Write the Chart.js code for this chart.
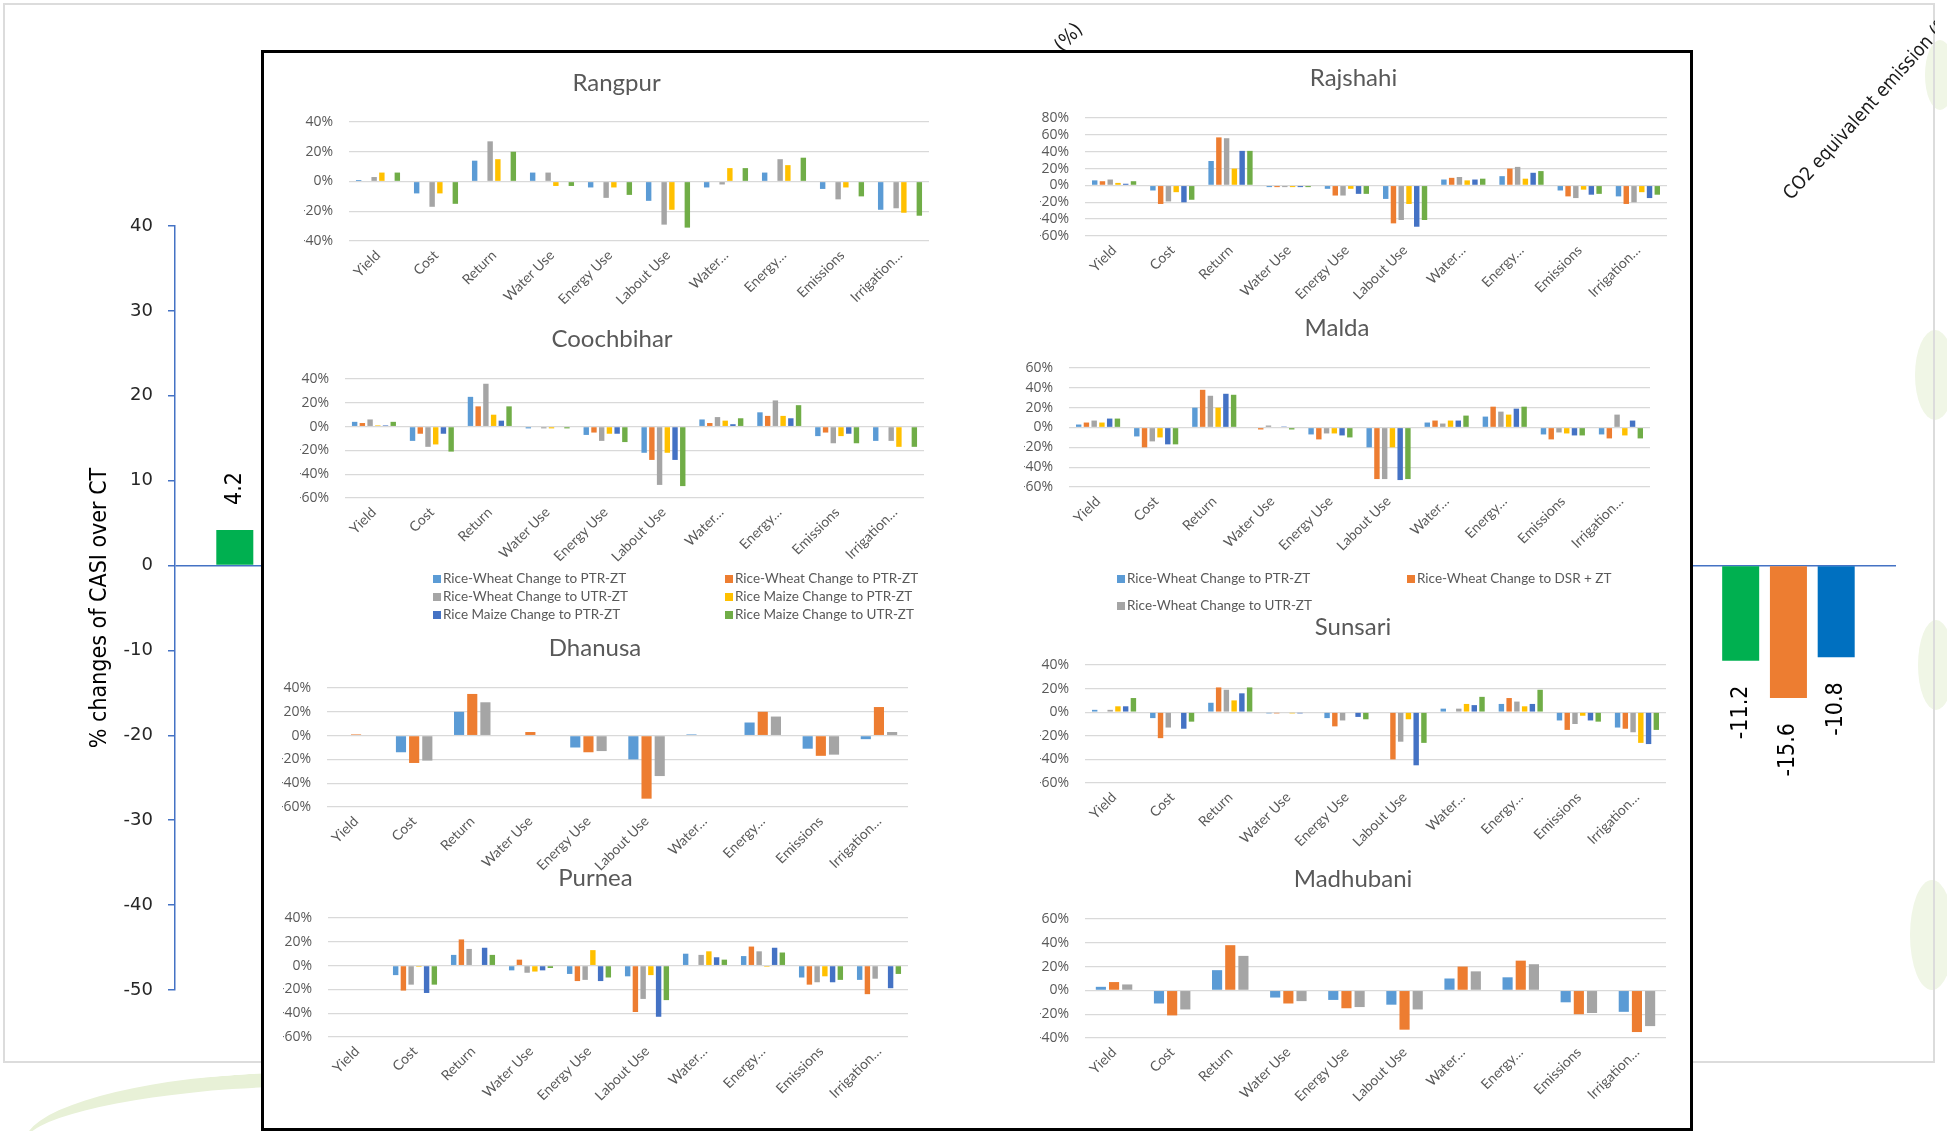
<!DOCTYPE html>
<html>
<head>
<meta charset="utf-8">
<script src="https://cdn.jsdelivr.net/npm/chart.js@4.4.1/dist/chart.umd.min.js"></script>
<style>
  html, body { margin: 0; padding: 0; background: #fff; }
  body { width: 1947px; height: 1131px; position: relative; overflow: hidden; }
  #bgFrame { position: absolute; left: 3px; top: 3px; width: 1932px; height: 1060px; border: 2px solid #dcdcdc; box-sizing: border-box; }
  #bgChart { position: absolute; left: 3px; top: 3px; }
  #panel { position: absolute; left: 261px; top: 50px; width: 1432px; height: 1081px; border: 3px solid #000; box-sizing: border-box; background: #fff; }
  canvas.small { position: absolute; }
  .leaf { position: absolute; border-radius: 50%; background: #f0f6e6; }
  .swoosh { position: absolute; left: 25px; top: 1075px; width: 420px; height: 90px; border-radius: 50%; border-top: 14px solid #e8f1d7; transform: rotate(-4deg); }
</style>
</head>
<body>
<div class="swoosh"></div>
<div class="leaf" style="left:1925px;top:40px;width:30px;height:70px;"></div>
<div class="leaf" style="left:1915px;top:330px;width:40px;height:90px;"></div>
<div class="leaf" style="left:1918px;top:620px;width:36px;height:90px;"></div>
<div class="leaf" style="left:1910px;top:880px;width:44px;height:110px;"></div>
<div id="bgFrame"></div>
<canvas id="bgChart" width="1932" height="1060"></canvas>
<div id="panel"></div>

<script>
// ===== background chart (CASI over CT) =====
const bgCategories = ["", "", "", "Energy use efficiency (%)", "", "", "", "CO2 equivalent emission (%)"];
const bgGreen = [4.2, null, null, null, null, null, null, -11.2];
const bgOrange = [null, null, null, null, null, null, null, -15.6];
const bgBlue = [null, null, null, null, null, null, null, -10.8];
const bgTickMin = -50;
const bgTickMax = 40;

// ===== district charts =====
const categories = ["Yield", "Cost", "Return", "Water Use", "Energy Use", "Labout Use", "Water…", "Energy…", "Emissions", "Irrigation…"];
const seriesNames = [
  "Rice-Wheat Change to PTR-ZT",
  "Rice-Wheat Change to PTR-ZT",
  "Rice-Wheat Change to UTR-ZT",
  "Rice Maize Change to PTR-ZT",
  "Rice Maize Change to PTR-ZT",
  "Rice Maize Change to UTR-ZT"
];
const maldaNames = [
  "Rice-Wheat Change to PTR-ZT",
  "Rice-Wheat Change to DSR + ZT",
  "Rice-Wheat Change to UTR-ZT",
  "Rice Maize Change to PTR-ZT",
  "Rice Maize Change to PTR-ZT",
  "Rice Maize Change to UTR-ZT"
];
const seriesColors = ["#5B9BD5", "#ED7D31", "#A5A5A5", "#FFC000", "#4472C4", "#70AD47"];

// values in %, series order = seriesNames
const rangpur = [
  [1, -8, 14, 6, -4, -13, -4, 6, -5, -19],
  [null, null, null, null, null, null, null, null, null, null],
  [3, -17, 27, 6, -11, -29, -2, 15, -12, -18],
  [6, -8, 15, -3, -4, -19, 9, 11, -4, -21],
  [null, null, null, null, null, null, null, null, null, null],
  [6, -15, 20, -3, -9, -31, 9, 16, -10, -23]
];
const rajshahi = [
  [6, -6, 29, -2, -4, -16, 7, 11, -6, -13],
  [5, -22, 57, -2, -12, -45, 9, 20, -13, -22],
  [7, -19, 56, -2, -12, -41, 10, 22, -15, -20],
  [3, -8, 20, -2, -4, -22, 6, 8, -5, -8],
  [2, -20, 41, -2, -10, -49, 7, 15, -11, -15],
  [5, -17, 41, -2, -10, -41, 8, 17, -10, -11]
];
const coochbihar = [
  [4, -12, 25, -1.5, -7, -22, 6, 12, -8, -12],
  [3, -6, 17, null, -5, -28, 3, 9, -5, null],
  [6, -17, 36, -1.5, -12, -49, 8, 22, -14, -12],
  [1, -15, 10, -1.5, -6, -22, 5, 9, -8, -17],
  [1, -6, 5, null, -6, -28, 2, 7, -6, null],
  [4, -21, 17, -1.5, -13, -50, 7, 18, -14, -17]
];
const malda = [
  [3, -9, 20, null, -7, -20, 5, 11, -7, -7],
  [5, -20, 38, -2, -12, -52, 7, 21, -12, -11],
  [7, -14, 32, 2, -6, -52, 4, 16, -5, 13],
  [5, -10, 20, null, -6, -20, 7, 13, -6, -8],
  [9, -17, 34, 1, -8, -53, 7, 19, -8, 7],
  [9, -17, 33, -2, -10, -52, 12, 21, -8, -11]
];
const dhanusa = [
  [null, -14, 20, null, -10, -20, 1, 11, -11, -3],
  [1, -23, 35, 3, -14, -53, null, 20, -17, 24],
  [null, -21, 28, null, -13, -34, null, 16, -16, 3]
];
const sunsari = [
  [2, -5, 8, -1, -5, null, 3, 7, -7, -13],
  [null, -22, 21, -1, -12, -40, null, 12, -15, -14],
  [2, -13, 19, null, -7, -25, 3, 9, -10, -17],
  [5, null, 10, -1, null, -6, 7, 5, -3, -26],
  [5, -14, 16, -1, -4, -45, 6, 7, -7, -27],
  [12, -8, 21, null, -6, -26, 13, 19, -8, -15]
];
const purnea = [
  [null, -8, 9, -4, -7, -9, 10, 8, -10, -12],
  [null, -21, 22, 5, -13, -39, null, 16, -16, -24],
  [null, -16, 14, -6, -12, -28, 9, 12, -14, -11],
  [null, -1, null, -5, 13, -8, 12, -1, -9, null],
  [null, -23, 15, -4, -13, -43, 7, 15, -14, -19],
  [null, -16, 9, -2, -10, -29, 5, 11, -12, -7]
];
const madhubani = [
  [3, -11, 17, -6, -8, -12, 10, 11, -10, -18],
  [7, -21, 38, -11, -15, -33, 20, 25, -20, -35],
  [5, -16, 29, -9, -14, -16, 16, 22, -19, -30]
];

const NARROW = "'Liberation Sans Narrow', 'DejaVu Sans Condensed', sans-serif";
const GREY_TEXT = "#595959";
Chart.defaults.font.family = "Lato, 'Open Sans', sans-serif";
Chart.defaults.color = GREY_TEXT;

// rotated value labels on the background bars
const barLabels = {
  id: "barLabels",
  afterDatasetsDraw(chart) {
    const ctx = chart.ctx;
    ctx.save();
    ctx.font = "23px " + NARROW;
    ctx.fillStyle = "#000";
    ctx.textBaseline = "middle";
    chart.data.datasets.forEach((ds, i) => {
      chart.getDatasetMeta(i).data.forEach((bar, j) => {
        const v = ds.data[j];
        if (v == null) return;
        ctx.save();
        ctx.translate(bar.x, v >= 0 ? bar.y - 25 : bar.y + 25);
        ctx.rotate(-Math.PI / 2);
        ctx.textAlign = v >= 0 ? "left" : "right";
        ctx.fillText(v.toFixed(1), 0, 0);
        ctx.restore();
      });
    });
    ctx.restore();
  }
};

new Chart(document.getElementById("bgChart"), {
  type: "bar",
  data: {
    labels: bgCategories,
    datasets: [
      { label: "Series 1", data: bgGreen, backgroundColor: "#00B050" },
      { label: "Series 2", data: bgOrange, backgroundColor: "#ED7D31" },
      { label: "Series 3", data: bgBlue, backgroundColor: "#0070C0" }
    ]
  },
  options: {
    responsive: false,
    animation: false,
    categoryPercentage: 0.666,
    barPercentage: 0.775,
    layout: { padding: { left: 83, right: 39, top: 0, bottom: 73 } },
    plugins: { legend: { display: false }, tooltip: { enabled: false } },
    scales: {
      x: {
        position: "top",
        grid: { display: false, drawTicks: false },
        border: { display: false },
        ticks: {
          autoSkip: false, minRotation: 48, maxRotation: 48, padding: 21, labelOffset: 16,
          color: "#1a1a1a",
          font: c => ({ family: NARROW, size: c.index === 7 ? 19 : 20 })
        },
        afterFit(s) { s.height = 223; s.paddingLeft = 0; s.paddingRight = 0; }
      },
      y: {
        min: bgTickMin,
        max: bgTickMax,
        ticks: { stepSize: 10, padding: 15, color: "#262626", font: { family: "'DejaVu Sans', sans-serif", size: 18 } },
        grid: {
          color: c => (c.tick && c.tick.value === 0 ? "#4472C4" : "transparent"),
          tickColor: "#4472C4",
          tickLength: 7,
          lineWidth: 1.5
        },
        border: { color: "#4472C4", width: 1.5 },
        title: { display: true, text: "% changes of CASI over CT", color: "#000", padding: 0, font: { family: NARROW, size: 23 } },
        afterFit(s) { s.width = 89; }
      }
    }
  },
  plugins: [barLabels]
});

// two-column legend drawn under a district chart
const gridLegend = {
  id: "gridLegend",
  afterDraw(chart, args, opts) {
    if (!opts.rows) return;
    const ctx = chart.ctx;
    ctx.save();
    ctx.font = "13.5px Lato, sans-serif";
    ctx.textBaseline = "middle";
    ctx.textAlign = "left";
    for (let k = 0; k < opts.count; k++) {
      const ds = chart.data.datasets[k];
      const x = opts.cols[k % 2];
      const y = opts.rows[Math.floor(k / 2)];
      ctx.fillStyle = ds.backgroundColor;
      ctx.fillRect(x, y - 4, 8, 8);
      ctx.fillStyle = GREY_TEXT;
      ctx.fillText(ds.label, x + 10, y);
    }
    ctx.restore();
  }
};

const Y_W = 45;
const X_H = 70;

function pct(v) {
  return (v < 0 ? "-" : "") + Math.abs(v) + "%";
}

function drawDistrict(title, values, names, box, yRange, legend) {
  const [gl, gr, gt, gb, ty] = box;
  const cl = gl - Y_W - 20;
  const ct = Math.round(ty - 14.4);
  const w = gr + 15 - cl;
  const bottomEdge = legend ? legend.bottom : gb + X_H;
  const h = bottomEdge - ct;

  const canvas = document.createElement("canvas");
  canvas.className = "small";
  canvas.width = w;
  canvas.height = h;
  canvas.style.left = cl + "px";
  canvas.style.top = ct + "px";
  document.body.appendChild(canvas);

  const six = values.length === 6;
  new Chart(canvas, {
    type: "bar",
    data: {
      labels: categories,
      datasets: values.map((v, i) => ({ label: names[i], data: v, backgroundColor: seriesColors[i] }))
    },
    options: {
      responsive: false,
      animation: false,
      categoryPercentage: six ? 0.8 : 0.68,
      barPercentage: six ? 0.7 : 0.77,
      layout: { padding: { left: 20, right: 15, top: 0, bottom: bottomEdge - (gb + X_H) } },
      plugins: {
        legend: { display: false },
        tooltip: { enabled: false },
        title: {
          display: true,
          text: title,
          color: GREY_TEXT,
          font: { size: 24, weight: "normal", lineHeight: 1.2 },
          padding: { top: 0, bottom: gt - ct - 28.8 }
        },
        gridLegend: legend
          ? { count: legend.count, cols: legend.cols.map(x => x - cl), rows: legend.rows.map(y => y - ct) }
          : {}
      },
      scales: {
        x: {
          grid: { display: false, drawTicks: false },
          border: { display: false },
          ticks: { autoSkip: false, minRotation: 45, maxRotation: 45, padding: 6, font: { size: 14 } },
          afterFit(s) { s.height = X_H; s.paddingLeft = 0; s.paddingRight = 0; }
        },
        y: {
          min: yRange[0],
          max: yRange[1],
          ticks: {
            stepSize: 20,
            autoSkip: false,
            padding: 16,
            font: { family: "'Open Sans', sans-serif", size: 14 },
            callback: v => pct(v)
          },
          grid: { color: "#D9D9D9", lineWidth: 1.3, drawTicks: false },
          border: { display: false },
          afterFit(s) { s.width = Y_W; }
        }
      }
    },
    plugins: [gridLegend]
  });
}

drawDistrict("Rangpur", rangpur, seriesNames, [349, 929, 122, 241, 83], [-40, 40]);
drawDistrict("Rajshahi", rajshahi, seriesNames, [1085, 1667, 118, 236, 78], [-60, 80]);
drawDistrict("Coochbihar", coochbihar, seriesNames, [345, 924, 379, 498, 339], [-60, 40],
  { count: 6, cols: [433, 725], rows: [579, 597, 615], bottom: 628 });
drawDistrict("Malda", malda, maldaNames, [1069, 1650, 368, 487, 328], [-60, 60],
  { count: 3, cols: [1117, 1407], rows: [579, 606], bottom: 616 });
drawDistrict("Dhanusa", dhanusa, seriesNames, [327, 908, 688, 807, 648], [-60, 40]);
drawDistrict("Sunsari", sunsari, seriesNames, [1085, 1666, 665, 783, 627], [-60, 40]);
drawDistrict("Purnea", purnea, seriesNames, [328, 908, 918, 1037, 878], [-60, 40]);
drawDistrict("Madhubani", madhubani, seriesNames, [1085, 1666, 919, 1038, 879], [-40, 60]);
</script>
</body>
</html>
